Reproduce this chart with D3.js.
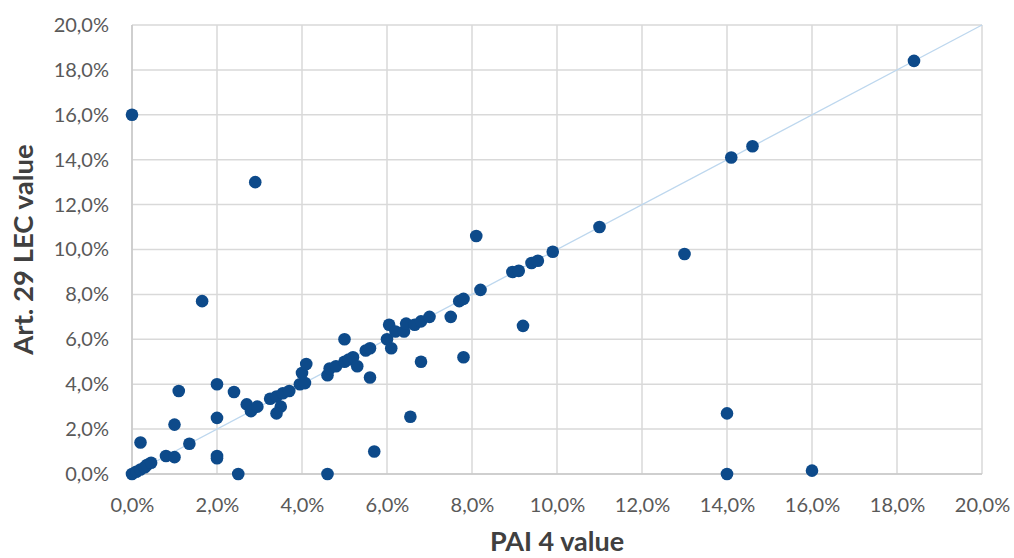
<!DOCTYPE html>
<html><head><meta charset="utf-8">
<script src="https://cdn.jsdelivr.net/npm/d3@7"></script>
<style>html,body{margin:0;padding:0;background:#fff;}svg{display:block;}</style>
</head><body>
<script>
// PAI 4 value (%)
const paiValues = [0.0,2.9,1.65,0.0,0.1,0.2,0.3,0.35,0.45,0.2,1.1,1.0,1.35,0.8,1.0,2.0,2.0,2.0,2.0,2.5,
  2.4,2.7,2.8,2.95,3.25,3.4,3.5,3.4,3.55,3.7,3.95,4.07,4.0,4.1,4.6,4.65,4.8,5.0,5.1,5.0,
  5.2,5.3,4.6,5.5,5.6,5.6,5.7,6.0,6.1,6.05,6.2,6.4,6.45,6.65,6.8,7.0,6.8,6.55,7.5,7.7,
  7.8,7.8,8.1,8.2,8.95,9.1,9.4,9.55,9.2,9.9,11.0,13.0,14.0,14.0,16.0,14.1,14.6,18.4];
// Art. 29 LEC value (%)
const lecValues = [16.0,13.0,7.7,0.0,0.1,0.2,0.3,0.4,0.5,1.4,3.7,2.2,1.35,0.8,0.75,4.0,2.5,0.8,0.7,0.0,
  3.65,3.1,2.8,3.0,3.35,3.45,3.0,2.7,3.6,3.7,4.0,4.05,4.5,4.9,4.4,4.7,4.8,5.0,5.1,6.0,
  5.2,4.8,0.0,5.5,5.6,4.3,1.0,6.0,5.6,6.65,6.35,6.35,6.7,6.65,6.8,7.0,5.0,2.55,7.0,7.7,
  7.8,5.2,10.6,8.2,9.0,9.05,9.4,9.5,6.6,9.9,11.0,9.8,2.7,0.0,0.15,14.1,14.6,18.4];
const tickValues = [0,2,4,6,8,10,12,14,16,18,20];
const diagonal = [0,20];
const xTitle = "PAI 4 value";
const yTitle = "Art. 29 LEC value";

const W = 1014, H = 558;
const m = {left:132, right:32, top:25, bottom:84};
const svg = d3.select("body").append("svg").attr("width",W).attr("height",H);
const x = d3.scaleLinear().domain([0,20]).range([m.left, W-m.right]);
const y = d3.scaleLinear().domain([0,20]).range([H-m.bottom, m.top]);
const fmt = d => d.toFixed(1).replace(".", ",") + "%";
const font = "Lato, 'Open Sans', sans-serif";

// grid
const g = svg.append("g");
g.selectAll("line.v").data(tickValues).join("line")
  .attr("x1",d=>x(d)).attr("x2",d=>x(d)).attr("y1",y(0)).attr("y2",y(20))
  .attr("stroke","#d9d9d9").attr("stroke-width",1.5);
g.selectAll("line.h").data(tickValues).join("line")
  .attr("y1",d=>y(d)).attr("y2",d=>y(d)).attr("x1",x(0)).attr("x2",x(20))
  .attr("stroke","#d9d9d9").attr("stroke-width",1.5);
// axis lines
svg.append("line").attr("x1",x(0)).attr("x2",x(0)).attr("y1",y(0)).attr("y2",y(20)).attr("stroke","#c8c8c8").attr("stroke-width",1.5);
svg.append("line").attr("x1",x(0)).attr("x2",x(20)).attr("y1",y(0)).attr("y2",y(0)).attr("stroke","#c8c8c8").attr("stroke-width",1.5);

// axes using d3 axis generators
const xAxis = d3.axisBottom(x).tickValues(tickValues).tickFormat(fmt).tickSize(0).tickPadding(24);
const yAxis = d3.axisLeft(y).tickValues(tickValues).tickFormat(fmt).tickSize(0).tickPadding(23);
const xa = svg.append("g").attr("transform",`translate(0,${y(0)})`).call(xAxis);
const ya = svg.append("g").attr("transform",`translate(${x(0)},0)`).call(yAxis);
[xa,ya].forEach(a=>{
  a.select(".domain").remove();
  a.selectAll("text").attr("font-family",font).attr("font-size",20).attr("fill","#595959");
});

// diagonal
svg.append("line").attr("x1",x(diagonal[0])).attr("y1",y(diagonal[0])).attr("x2",x(diagonal[1])).attr("y2",y(diagonal[1]))
  .attr("stroke","#bdd7ee").attr("stroke-width",1.3);

// points
svg.append("g").selectAll("circle").data(paiValues.map((v,i)=>[v,lecValues[i]])).join("circle")
  .attr("cx",d=>x(d[0])).attr("cy",d=>y(d[1])).attr("r",6.3).attr("fill","#0d4a8a");

// titles
svg.append("text").attr("x",(x(0)+x(20))/2).attr("y",551).attr("text-anchor","middle")
  .attr("font-family",font).attr("font-weight","bold").attr("font-size",27).attr("fill","#404040").text(xTitle);
svg.append("text").attr("transform",`translate(33,${(y(0)+y(20))/2}) rotate(-90)`).attr("text-anchor","middle")
  .attr("font-family",font).attr("font-weight","bold").attr("font-size",27.5).attr("fill","#404040").text(yTitle);
</script>
</body></html>
